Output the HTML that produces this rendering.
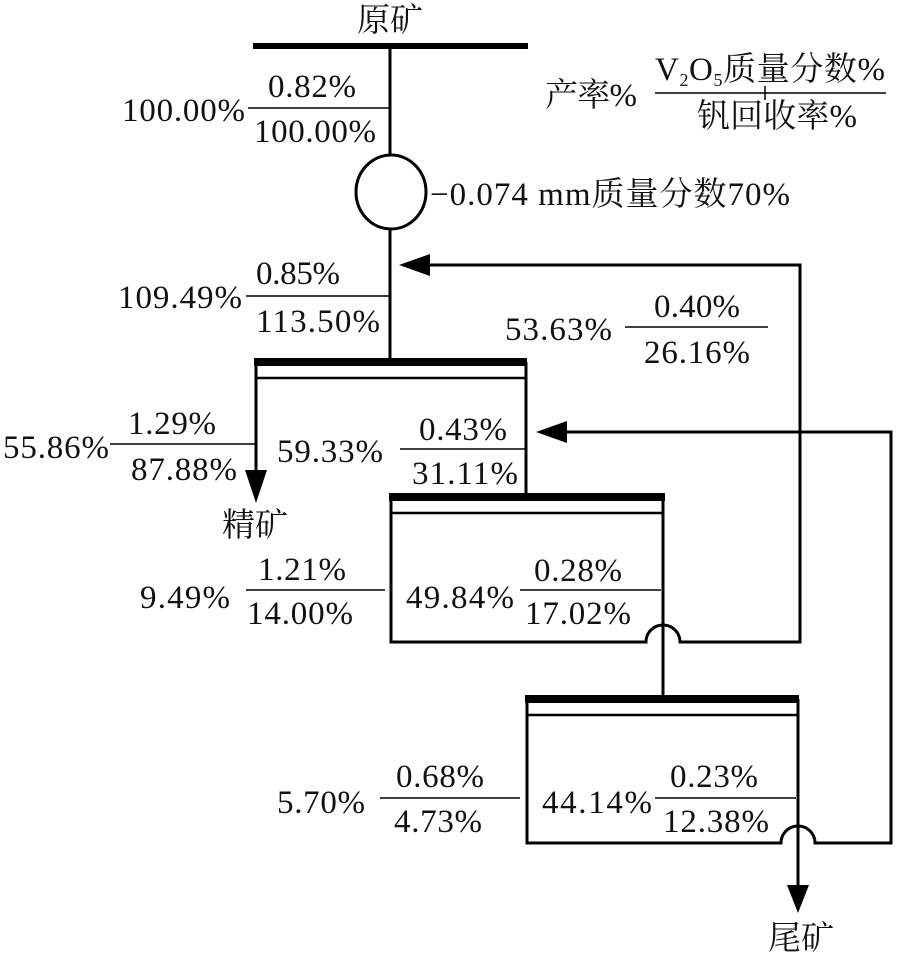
<!DOCTYPE html>
<html><head><meta charset="utf-8"><style>
html,body{margin:0;padding:0;background:#fff;}
svg{display:block;}
text{font-family:"Liberation Serif","Noto Serif CJK SC",serif;font-size:33px;fill:#111;}
</style></head><body>
<svg width="900" height="955" viewBox="0 0 900 955" xmlns="http://www.w3.org/2000/svg">
<g stroke="#000" fill="none" stroke-width="3">
<rect x="253" y="43" width="275" height="6" fill="#000" stroke="none"/>
<line x1="390" y1="46" x2="390" y2="156"/>
<ellipse cx="391" cy="192" rx="35" ry="37"/>
<line x1="390" y1="229" x2="390" y2="362"/>
<rect x="254" y="358" width="273" height="8" fill="#000" stroke="none"/>
<line x1="256" y1="378" x2="526" y2="378" stroke-width="2.5"/>
<line x1="256" y1="362" x2="256" y2="475"/>
<line x1="526" y1="362" x2="526" y2="496"/>
<polygon points="245,470 267,470 256,503" fill="#000" stroke="none"/>
<rect x="389" y="493" width="276" height="8" fill="#000" stroke="none"/>
<line x1="391" y1="513" x2="663" y2="513" stroke-width="2.5"/>
<line x1="391" y1="497" x2="391" y2="642"/>
<line x1="663" y1="497" x2="663" y2="697"/>
<path d="M389.5 642 H646 A17 17 0 0 1 680 642 H800 V265 H428"/>
<polygon points="430,254 430,276 399,265" fill="#000" stroke="none"/>
<rect x="525" y="695" width="274" height="8" fill="#000" stroke="none"/>
<line x1="527" y1="715" x2="798" y2="715" stroke-width="2.5"/>
<line x1="527" y1="699" x2="527" y2="843"/>
<line x1="798" y1="699" x2="798" y2="888"/>
<path d="M525.5 843 H781 A17 17 0 0 1 815 843 H891 V432 H566"/>
<polygon points="567,421 567,443 536,432" fill="#000" stroke="none"/>
<polygon points="787,885 809,885 798,913" fill="#000" stroke="none"/>
</g>
<g stroke="#000" stroke-width="1.5">
<line x1="248" y1="108" x2="390" y2="108"/>
<line x1="655" y1="93" x2="886" y2="93"/>
<line x1="765" y1="86" x2="765" y2="100"/>
<line x1="246" y1="296" x2="390" y2="296"/>
<line x1="625" y1="327" x2="768" y2="327"/>
<line x1="110" y1="444" x2="255" y2="444"/>
<line x1="400" y1="449" x2="526" y2="449"/>
<line x1="246" y1="590" x2="385" y2="590"/>
<line x1="520" y1="590" x2="661" y2="590"/>
<line x1="380" y1="798" x2="520" y2="798"/>
<line x1="655" y1="798" x2="796" y2="798"/>
</g>
<text x="390" y="31" text-anchor="middle" font-size="31">原矿</text>
<text x="122" y="121" textLength="123">100.00%</text>
<text x="312" y="97" text-anchor="middle" textLength="88">0.82%</text>
<text x="315" y="142" text-anchor="middle" textLength="122">100.00%</text>
<text x="545" y="106" textLength="92" font-size="31">产率%</text>
<text x="655" y="80" textLength="230" font-size="31">V<tspan font-size="18" dy="6">2</tspan><tspan dy="-6">O</tspan><tspan font-size="18" dy="6">5</tspan><tspan dy="-6">质量分数%</tspan></text>
<text x="697" y="127" textLength="160" font-size="31">钒回收率%</text>
<text x="430" y="205" textLength="360" font-size="31">−0.074 mm质量分数70%</text>
<text x="118" y="308" textLength="124">109.49%</text>
<text x="298" y="284" text-anchor="middle" textLength="84">0.85%</text>
<text x="318" y="332" text-anchor="middle" textLength="124">113.50%</text>
<text x="505" y="340" textLength="107">53.63%</text>
<text x="697" y="317" text-anchor="middle" textLength="86">0.40%</text>
<text x="697" y="363" text-anchor="middle" textLength="106">26.16%</text>
<text x="3" y="458" textLength="106">55.86%</text>
<text x="172" y="434" text-anchor="middle" textLength="88">1.29%</text>
<text x="184" y="480" text-anchor="middle" textLength="106">87.88%</text>
<text x="277" y="462" textLength="106">59.33%</text>
<text x="463" y="440" text-anchor="middle" textLength="88">0.43%</text>
<text x="465" y="484" text-anchor="middle" textLength="106">31.11%</text>
<text x="222" y="536" font-size="31">精矿</text>
<text x="140" y="608" textLength="90">9.49%</text>
<text x="302" y="580" text-anchor="middle" textLength="88">1.21%</text>
<text x="300" y="624" text-anchor="middle" textLength="106">14.00%</text>
<text x="406" y="608" textLength="108">49.84%</text>
<text x="578" y="581" text-anchor="middle" textLength="88">0.28%</text>
<text x="578" y="624" text-anchor="middle" textLength="106">17.02%</text>
<text x="277" y="813" textLength="88">5.70%</text>
<text x="440" y="787" text-anchor="middle" textLength="88">0.68%</text>
<text x="438" y="832" text-anchor="middle" textLength="88">4.73%</text>
<text x="542" y="813" textLength="110">44.14%</text>
<text x="714" y="787" text-anchor="middle" textLength="88">0.23%</text>
<text x="716" y="832" text-anchor="middle" textLength="106">12.38%</text>
<text x="768" y="949" font-size="31">尾矿</text>
</svg>
</body></html>
